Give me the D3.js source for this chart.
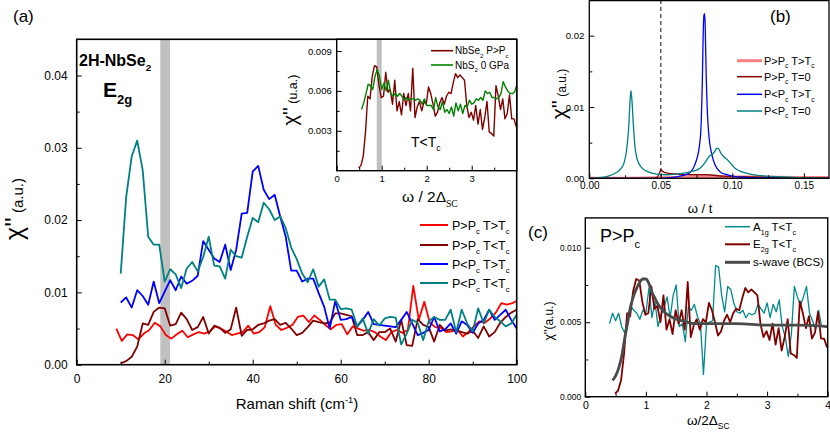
<!DOCTYPE html>
<html><head><meta charset="utf-8">
<script src="https://cdn.jsdelivr.net/npm/d3@7"></script>
<style>html,body{margin:0;padding:0;background:#fff;} svg{display:block;font-family:'Liberation Sans',Arial,sans-serif;}</style>
</head><body><svg id="chart" width="830" height="432"></svg>
<script>
// ---------------- DATA: panel (a) Raman spectra ----------------
const ramanX = [10,11.25,12.5,13.75,15,16.25,17.5,18.75,20,21.25,22.5,23.75,25,26.25,27.5,28.75,30,31.25,32.5,33.75,35,36.25,37.5,38.75,40,41.25,42.5,43.75,45,46.25,47.5,48.75,50,51.25,52.5,53.75,55,56.25,57.5,58.75,60,61.25,62.5,63.75,65,66.25,67.5,68.75,70,71.25,72.5,73.75,75,76.25,77.5,78.75,80,81.25,82.5,83.75,85,86.25,87.5,88.75,90,91.25,92.5,93.75,95,96.25,97.5,98.75,100];
const ramanXRed = [9,10.25,11.5,12.75,14,15.25,16.5,17.75,19,20.25,21.5,22.75,24,25.25,26.5,27.75,29,30.25,31.5,32.75,34,35.25,36.5,37.75,39,40.25,41.5,42.75,44,45.25,46.5,47.75,49,50.25,51.5,52.75,54,55.25,56.5,57.75,59,60.25,61.5,62.75,64,65.25,66.5,67.75,69,70.25,71.5,72.75,74,75.25,76.5,77.75,79,80.25,81.5,82.75,84,85.25,86.5,87.75,89,90.25,91.5,92.75,94,95.25,96.5,97.75,99,100.25];
const aHighPHighT = [0.0050,0.0033,0.0042,0.0041,0.0035,0.0043,0.0048,0.0058,0.0053,0.0041,
0.0036,0.0042,0.0047,0.0038,0.0042,0.0045,0.0043,0.0046,0.0053,0.0050,
0.0046,0.0041,0.0043,0.0045,0.0054,0.0043,0.0045,0.0052,0.0081,0.0055,
0.0048,0.0051,0.0055,0.0066,0.0068,0.0059,0.0068,0.0062,0.0055,0.0049,
0.0055,0.0056,0.0042,0.0053,0.0050,0.0047,0.0048,0.0045,0.0039,0.0034,
0.0045,0.0048,0.0044,0.0048,0.0109,0.0062,0.0087,0.0058,0.0052,0.0051,
0.0045,0.0046,0.0049,0.0039,0.0045,0.0053,0.0060,0.0058,0.0064,0.0072,
0.0085,0.0083,0.0085,0.0089];
const aHighPLowT = [0.0002,0.0005,0.0011,0.0025,0.0057,0.0055,0.0073,0.0079,0.0078,0.0054,
0.0056,0.0072,0.0063,0.0048,0.0052,0.0066,0.0043,0.0054,0.0051,0.0044,
0.0049,0.0079,0.0040,0.0048,0.0049,0.0055,0.0057,0.0061,0.0063,0.0055,
0.0058,0.0050,0.0041,0.0044,0.0052,0.0061,0.0059,0.0057,0.0058,0.0071,
0.0071,0.0069,0.0067,0.0041,0.0041,0.0045,0.0034,0.0045,0.0045,0.0050,
0.0032,0.0062,0.0027,0.0026,0.0063,0.0055,0.0052,0.0032,0.0055,0.0047,
0.0049,0.0047,0.0045,0.0043,0.0047,0.0037,0.0053,0.0039,0.0045,0.0058,
0.0066,0.0072,0.0076];
const aLowPHighT = [0.0086,0.0093,0.0079,0.0103,0.0095,0.0083,0.0115,0.0085,0.0101,0.0117,
0.0103,0.0122,0.0112,0.0116,0.0123,0.0171,0.0159,0.0147,0.0142,0.0166,
0.0131,0.0159,0.0209,0.0210,0.0267,0.0275,0.0242,0.0229,0.0235,0.0205,
0.0177,0.0130,0.0130,0.0115,0.0119,0.0119,0.0099,0.0080,0.0050,0.0088,
0.0062,0.0063,0.0066,0.0053,0.0062,0.0073,0.0056,0.0055,0.0054,0.0053,
0.0052,0.0062,0.0073,0.0057,0.0041,0.0044,0.0048,0.0066,0.0046,0.0049,
0.0057,0.0043,0.0060,0.0055,0.0044,0.0057,0.0062,0.0076,0.0062,0.0069,
0.0076,0.0062,0.0050];
const aLowPLowT = [0.0126,0.0232,0.0288,0.0310,0.0269,0.0177,0.0166,0.0166,0.0115,0.0132,
0.0125,0.0106,0.0133,0.0142,0.0129,0.0149,0.0177,0.0137,0.0136,0.0119,
0.0159,0.0150,0.0148,0.0177,0.0203,0.0197,0.0224,0.0215,0.0200,0.0205,
0.0189,0.0162,0.0146,0.0126,0.0114,0.0132,0.0108,0.0118,0.0090,0.0090,
0.0077,0.0078,0.0076,0.0053,0.0064,0.0043,0.0063,0.0054,0.0064,0.0066,
0.0065,0.0028,0.0043,0.0062,0.0058,0.0034,0.0060,0.0066,0.0062,0.0062,
0.0076,0.0045,0.0076,0.0057,0.0046,0.0078,0.0057,0.0076,0.0066,0.0060,
0.0053,0.0057,0.0069];
const aBand = [19.0, 21.2];

// ---------------- DATA: inset / panel (c) ----------------
const omegaE2g = [0.49,0.54,0.59,0.64,0.69,0.74,0.79,0.84,0.89,0.94,0.99,1.04,1.09,1.14,1.19,1.24,1.29,1.34,1.39,1.44,1.49,1.54,1.59,1.64,1.69,1.74,1.79,1.84,1.89,1.94,1.99,2.04,2.09,2.14,2.19,2.24,2.29,2.34,2.39,2.44,2.49,2.54,2.59,2.64,2.69,2.74,2.79,2.84,2.89,2.94,2.99,3.04,3.09,3.14,3.19,3.24,3.29,3.34,3.39,3.44,3.49,3.54,3.59,3.64,3.69,3.74,3.79,3.84,3.89,3.94,3.99];
const e2gVals = [0.0002,0.0004,0.0011,0.0029,0.0056,0.0054,0.0071,0.0079,0.0078,0.0064,
0.0055,0.0056,0.0074,0.0059,0.0061,0.0050,0.0068,0.0045,0.0052,0.0042,
0.0058,0.0049,0.0058,0.0045,0.0077,0.0040,0.0048,0.0052,0.0045,0.0052,
0.0050,0.0063,0.0058,0.0050,0.0041,0.0044,0.0051,0.0055,0.0050,0.0056,
0.0059,0.0058,0.0066,0.0073,0.0070,0.0072,0.0070,0.0068,0.0049,0.0040,
0.0044,0.0038,0.0049,0.0035,0.0046,0.0031,0.0040,0.0052,0.0029,0.0028,
0.0026,0.0064,0.0056,0.0046,0.0054,0.0039,0.0043,0.0057,0.0039,0.0039,
0.0033];
const omegaNbS2 = [0.55,0.6,0.65,0.7,0.75,0.8,0.85,0.9,0.95,1,1.05,1.1,1.15,1.2,1.25,1.3,1.35,1.4,1.45,1.5,1.55,1.6,1.65,1.7,1.75,1.8,1.85,1.9,1.95,2,2.05,2.1,2.15,2.2,2.25,2.3,2.35,2.4,2.45,2.5,2.55,2.6,2.65,2.7,2.75,2.8,2.85,2.9,2.95,3,3.05,3.1,3.15,3.2,3.25,3.3,3.35,3.4,3.45,3.5,3.55,3.6,3.65,3.7,3.75,3.8,3.85,3.9,3.95,4];
const nbs2Vals = [0.0046,0.0051,0.0058,0.0065,0.0064,0.0061,0.0071,0.0076,0.0071,0.0061,
0.0066,0.0060,0.0068,0.0058,0.0056,0.0058,0.0056,0.0058,0.0056,0.0053,
0.0055,0.0053,0.0054,0.0054,0.0053,0.0054,0.0053,0.0050,0.0054,0.0049,
0.0049,0.0049,0.0046,0.0055,0.0048,0.0046,0.0052,0.0044,0.0046,0.0043,
0.0048,0.0041,0.0051,0.0045,0.0050,0.0043,0.0049,0.0048,0.0053,0.0050,
0.0051,0.0054,0.0053,0.0055,0.0053,0.0060,0.0058,0.0059,0.0055,0.0055,
0.0054,0.0055,0.0058,0.0067,0.0063,0.0060,0.0058,0.0058,0.0059,0.0064];
const insetBand = [0.89, 1.0];
const omegaA1g = [0.4,0.45,0.5,0.55,0.6,0.65,0.7,0.75,0.8,0.85,0.9,0.95,1,1.05,1.1,1.15,1.2,1.25,1.3,1.35,1.4,1.45,1.5,1.55,1.6,1.65,1.7,1.75,1.8,1.85,1.9,1.95,2,2.05,2.1,2.15,2.2,2.25,2.3,2.35,2.4,2.45,2.5,2.55,2.6,2.65,2.7,2.75,2.8,2.85,2.9,2.95,3,3.05,3.1,3.15,3.2,3.25,3.3,3.35,3.4,3.45,3.5,3.55,3.6,3.65,3.7,3.75,3.8,3.85,3.9];
const a1gVals = [0.0049,0.0056,0.0051,0.0056,0.0047,0.0043,0.0053,0.0061,0.0058,0.0056,
0.0052,0.0058,0.0056,0.0073,0.0053,0.0064,0.0047,0.0055,0.0060,0.0067,
0.0053,0.0068,0.0075,0.0047,0.0049,0.0037,0.0060,0.0058,0.0062,0.0054,
0.0049,0.0015,0.0049,0.0050,0.0051,0.0088,0.0087,0.0068,0.0057,0.0074,
0.0072,0.0063,0.0057,0.0056,0.0058,0.0053,0.0056,0.0055,0.0056,0.0062,
0.0059,0.0056,0.0063,0.0053,0.0062,0.0057,0.0065,0.0047,0.0040,0.0027,
0.0042,0.0074,0.0067,0.0061,0.0067,0.0074,0.0056,0.0051,0.0045,0.0058,
0.0047];
const bcsX = [0.45,0.5,0.55,0.6,0.65,0.7,0.75,0.8,0.85,0.9,0.95,1.0,1.05,1.1,1.15,1.2,1.3,1.4,1.5,1.6,1.8,2.0,2.5,3.0,3.5,4.0];
const bcsY = [0.0011,0.0014,0.0019,0.0027,0.0039,0.0050,0.0061,0.0068,0.0073,0.0077,0.0079,0.0079,0.0076,0.0070,0.0066,0.0062,0.0057,0.0054,0.0052,0.0051,0.0049,0.0049,0.0049,0.0048,0.0048,0.0047];

// ---------------- DATA: panel (b) model ----------------
const bLowPZeroX = [0,0.0075,0.0133,0.018,0.0214,0.0242,0.0261,0.0275,0.0284,0.0291,0.0298,0.0308,0.0319,0.0336,0.0366,0.0413,0.0471,0.0541,0.0611,0.068,0.0727,0.0774,0.0809,0.0839,0.0862,0.0879,0.089,0.0902,0.0918,0.0937,0.096,0.0984,0.1019,0.1054,0.1124,0.124,0.1357,0.147,0.168];
const bLowPZeroY = [0,0.0001,0.0003,0.0007,0.0012,0.0021,0.0040,0.0070,0.0105,0.0123,0.0110,0.0075,0.0045,0.0026,0.0015,0.0009,0.0006,0.0005,0.0006,0.0008,0.0010,0.0014,0.0022,0.0031,0.0034,0.0038,0.0042,0.0042,0.0036,0.0031,0.0027,0.0022,0.0014,0.0010,0.0006,0.0003,0.0002,0.0001,0.0000];
const bLowPHighX = [0,0.05,0.061,0.0657,0.0704,0.0727,0.075,0.0769,0.0781,0.079,0.0797,0.0802,0.0807,0.0811,0.0816,0.0825,0.0837,0.0855,0.0879,0.0914,0.096,0.103,0.112,0.136,0.168];
const bLowPHighY = [0,0,0.0002,0.0004,0.0008,0.0014,0.0026,0.0044,0.0072,0.0133,0.0208,0.0229,0.0231,0.0208,0.0157,0.0096,0.0058,0.0035,0.0019,0.0009,0.0005,0.0002,0.0001,0,0];
const bHighPZeroX = [0,0.045,0.0471,0.049,0.0501,0.0517,0.0552,0.061,0.0704,0.082,0.0937,0.112,0.136,0.168];
const bHighPZeroY = [0,0,0.0001,0.0007,0.0012,0.0009,0.0007,0.0006,0.0005,0.0005,0.0003,0.0002,0.0001,0.00005];
const bHighPHighX = [0,0.03,0.05,0.07,0.09,0.11,0.13,0.15,0.168];
const bHighPHighY = [0,0.00002,0.00008,0.00015,0.0002,0.00018,0.00015,0.00012,0.0001];
const bDashedAt = 0.05;

// ---------------- ticks ----------------
const aXMajor=[0,20,40,60,80,100], aXMinor=[10,30,50,70,90];
const aYMajor=[0,0.01,0.02,0.03,0.04], aYMinor=[0.005,0.015,0.025,0.035];
const iXMajor=[0,1,2,3], iXMinor=[0.5,1.5,2.5,3.5];
const iYMajor=[0.003,0.006,0.009], iYMinor=[0.0015,0.0045,0.0075];
const bXMajor=[0,0.05,0.10,0.15], bXMinor=[0.025,0.075,0.125];
const bYMajor=[0,0.01,0.02], bYMinor=[0.005,0.015];
const cXMajor=[0,1,2,3,4], cXMinor=[0.5,1.5,2.5,3.5];
const cYMajor=[0,0.005,0.010], cYMinor=[0.0025,0.0075];

// ---------------- helpers ----------------
const svg = d3.select('#chart');
const defs = svg.append('defs');
const FONT = "'Liberation Sans',Arial,sans-serif";

function clip(id, x0, y0, x1, y1){
  defs.append('clipPath').attr('id',id).append('rect').attr('x',x0).attr('y',y0).attr('width',x1-x0).attr('height',y1-y0);
}
function drawLine(g, xs, ys, sx, sy, color, w, curve){
  g.append('path').attr('d', d3.line().x(d=>sx(d[0])).y(d=>sy(d[1])).curve(curve||d3.curveLinear)(d3.zip(xs,ys)))
   .attr('fill','none').attr('stroke',color).attr('stroke-width',w).attr('stroke-linejoin','round');
}
function axes(g, sx, sy, o){
  const [x0] = sx.range(), [y0] = sy.range();
  const parts = [];
  parts.push(g.append('g').attr('transform',`translate(0,${y0})`).call(d3.axisBottom(sx).tickValues(o.xMajor).tickSize(-5).tickPadding(o.xPad).tickFormat(o.xFmt)));
  parts.push(g.append('g').attr('transform',`translate(0,${y0})`).call(d3.axisBottom(sx).tickValues(o.xMinor).tickSize(-3).tickFormat('')));
  parts.push(g.append('g').attr('transform',`translate(${x0},0)`).call(d3.axisLeft(sy).tickValues(o.yMajor).tickSize(-5).tickPadding(o.yPad).tickFormat(o.yFmt)));
  parts.push(g.append('g').attr('transform',`translate(${x0},0)`).call(d3.axisLeft(sy).tickValues(o.yMinor).tickSize(-3).tickFormat('')));
  parts.forEach((a,i)=>{
    a.select('.domain').remove();
    a.attr('font-family',FONT).attr('font-size', i<2 ? o.xFs : o.yFs);
    a.selectAll('line').attr('stroke','#000').attr('stroke-width',1);
    a.selectAll('text').attr('fill','#000');
  });
}
function frame(g, x0, y0, x1, y1, w){
  g.append('rect').attr('x',x0).attr('y',y0).attr('width',x1-x0).attr('height',y1-y0)
   .attr('fill','none').attr('stroke','#000').attr('stroke-width',w||1.5);
}
function rich(g, x, y, parts, size, attrs){
  const t = g.append('text').attr('x',x).attr('y',y).attr('font-size',size).attr('fill','#000');
  if (attrs) Object.entries(attrs).forEach(([k,v])=>t.attr(k,v));
  let off = 0;
  parts.forEach(p=>{
    const [txt, kind, fam] = Array.isArray(p) ? p : [p,'n'];
    const target = kind==='sub' ? size*0.32 : kind==='sup' ? -size*0.42 : 0;
    const ts = t.append('tspan').text(txt).attr('dy', target-off);
    if (kind!=='n') ts.attr('font-size', size*0.62);
    if (fam) ts.attr('font-family', fam);
    off = target;
  });
  return t;
}
function legendRow(g, x0, x1, y, color, w, parts, size, tx){
  g.append('line').attr('x1',x0).attr('x2',x1).attr('y1',y).attr('y2',y).attr('stroke',color).attr('stroke-width',w);
  rich(g, tx, y+size*0.36, parts, size);
}

// ================= PANEL (a) =================
const gA = svg.append('g');
const xA = d3.scaleLinear().domain([0,100]).range([76.7,516.7]);
const yA = d3.scaleLinear().domain([0,0.045]).range([364.7,39.3]);
clip('clipA', 76.7, 39.3, 516.7, 364.7);
gA.append('rect').attr('x',xA(aBand[0])).attr('width',xA(aBand[1])-xA(aBand[0])).attr('y',39.3).attr('height',364.7-39.3).attr('fill','#c0c0c0');
const gAl = gA.append('g').attr('clip-path','url(#clipA)');
drawLine(gAl, ramanXRed, aHighPHighT, xA, yA, '#ff0000', 1.8);
drawLine(gAl, ramanX, aHighPLowT, xA, yA, '#800000', 1.8);
drawLine(gAl, ramanX, aLowPHighT, xA, yA, '#0000ff', 1.8);
drawLine(gAl, ramanX, aLowPLowT, xA, yA, '#008080', 1.8);
axes(gA, xA, yA, {xMajor:aXMajor,xMinor:aXMinor,yMajor:aYMajor,yMinor:aYMinor,xPad:10,yPad:9,xFmt:d3.format('d'),yFmt:d3.format('.2f'),xFs:12,yFs:12});
frame(gA, 76.7, 39.3, 516.7, 364.7, 1.6);
rich(gA, 13, 22, ['(a)'], 17);
rich(gA, 79, 66, ['2H-NbSe',['2','sub']], 16, {'font-weight':'bold'});
rich(gA, 103, 97, ['E',['2g','sub']], 21, {'font-weight':'bold'});
rich(gA, 297, 409, ['Raman shift (cm',['-1','sup'],')'], 15, {'text-anchor':'middle'});
{
  const t = gA.append('text').attr('transform','translate(23,209) rotate(-90)').attr('text-anchor','middle').attr('fill','#000');
  t.append('tspan').text('\u03C7\'\'').attr('font-size',25);
  t.append('tspan').text(' (a.u.)').attr('font-size',15);
}
const legA = gA.append('g');
legendRow(legA, 420, 448, 225, '#ff0000', 2, ['P>P',['c','sub'],'  T>T',['c','sub']], 12.5, 452);
legendRow(legA, 420, 448, 245, '#800000', 2, ['P>P',['c','sub'],'  T<T',['c','sub']], 12.5, 452);
legendRow(legA, 420, 448, 264, '#0000ff', 2, ['P<P',['c','sub'],'  T>T',['c','sub']], 12.5, 452);
legendRow(legA, 420, 448, 283, '#008080', 2, ['P<P',['c','sub'],'  T<T',['c','sub']], 12.5, 452);

// ---------------- inset ----------------
const gI = svg.append('g');
const xI = d3.scaleLinear().domain([0,4]).range([336.7,516.7]);
const yI = d3.scaleLinear().domain([0,0.00988]).range([170.7,39.3]);
clip('clipI', 336.7, 39.3, 516.7, 170.7);
gI.append('rect').attr('x',336.7).attr('y',39.3).attr('width',180).attr('height',131.4).attr('fill','#fff');
gI.append('rect').attr('x',xI(insetBand[0])).attr('width',xI(insetBand[1])-xI(insetBand[0])).attr('y',39.3).attr('height',131.4).attr('fill','#c0c0c0');
const gIl = gI.append('g').attr('clip-path','url(#clipI)');
drawLine(gIl, omegaE2g, e2gVals, xI, yI, '#800000', 1.4);
drawLine(gIl, omegaNbS2, nbs2Vals, xI, yI, '#008000', 1.4);
axes(gI, xI, yI, {xMajor:iXMajor,xMinor:iXMinor,yMajor:iYMajor,yMinor:iYMinor,xPad:5,yPad:5,xFmt:d3.format('d'),yFmt:d3.format('.3f'),xFs:9.5,yFs:9.5});
frame(gI, 336.7, 39.3, 516.7, 170.7, 1.4);
legendRow(gI, 431, 453, 50.7, '#800000', 1.6, ['NbSe',['2','sub'],' P>P',['c','sub']], 10, 455);
legendRow(gI, 431, 453, 65, '#008000', 1.6, ['NbS',['2','sub'],' 0 GPa'], 10, 455);
rich(gI, 411, 147, ['T<T',['c','sub']], 14);
rich(gI, 402, 202, ['\u03C9 / 2\u0394',['SC','sub',"'Liberation Serif',serif"]], 15.5);
{
  const t = gI.append('text').attr('transform','translate(297,100) rotate(-90)').attr('text-anchor','middle').attr('fill','#000');
  t.append('tspan').text('\u03C7\'\'').attr('font-size',20);
  t.append('tspan').text(' (u.a.)').attr('font-size',12.5);
}

// ================= PANEL (b) =================
const gB = svg.append('g');
const xB = d3.scaleLinear().domain([0,0.1676]).range([589.3,829]);
const yB = d3.scaleLinear().domain([0,0.025]).range([178.3,0.05]);
clip('clipB', 589.3, 0, 829, 178.3);
const gBl = gB.append('g').attr('clip-path','url(#clipB)');
gBl.append('line').attr('x1',xB(bDashedAt)).attr('x2',xB(bDashedAt)).attr('y1',0).attr('y2',178.3)
   .attr('stroke','#333').attr('stroke-width',1.2).attr('stroke-dasharray','4,3');
drawLine(gBl, bHighPHighX, bHighPHighY, xB, yB, '#ff8080', 3, d3.curveMonotoneX);
drawLine(gBl, bHighPZeroX, bHighPZeroY, xB, yB, '#8b0000', 1.3, d3.curveMonotoneX);
drawLine(gBl, bLowPHighX, bLowPHighY, xB, yB, '#0000ff', 1.3, d3.curveMonotoneX);
drawLine(gBl, bLowPZeroX, bLowPZeroY, xB, yB, '#008080', 1.3, d3.curveMonotoneX);
axes(gB, xB, yB, {xMajor:bXMajor,xMinor:bXMinor,yMajor:bYMajor,yMinor:bYMinor,xPad:3.5,yPad:5,xFmt:d3.format('.2f'),yFmt:d3.format('.2f'),xFs:10,yFs:9.5});
frame(gB, 589.3, 0.6, 829, 178.3, 1.3);
rich(gB, 770, 22, ['(b)'], 17);
rich(gB, 700, 213, ['\u03C9 / t'], 13, {'text-anchor':'middle'});
{
  const t = gB.append('text').attr('transform','translate(566,94) rotate(-90)').attr('text-anchor','middle').attr('fill','#000');
  t.append('tspan').text('\u03C7\'\'').attr('font-size',21);
  t.append('tspan').text(' (a.u.)').attr('font-size',12);
}
const legB = gB.append('g');
legendRow(legB, 737, 762, 60.7, '#ff8080', 3, ['P>P',['c','sub'],' T>T',['c','sub']], 11, 764);
legendRow(legB, 737, 762, 76.7, '#8b0000', 1.5, ['P>P',['c','sub'],' T=0'], 11, 764);
legendRow(legB, 737, 762, 94.3, '#0000ff', 1.5, ['P<P',['c','sub'],' T>T',['c','sub']], 11, 764);
legendRow(legB, 737, 762, 111, '#008080', 1.5, ['P<P',['c','sub'],' T=0'], 11, 764);

// ================= PANEL (c) =================
const gC = svg.append('g');
const xC = d3.scaleLinear().domain([0,4]).range([585.3,827.7]);
const yC = d3.scaleLinear().domain([0,0.012]).range([396.7,217.9]);
clip('clipC', 585.3, 217.9, 827.7, 396.7);
const gCl = gC.append('g').attr('clip-path','url(#clipC)');
drawLine(gCl, omegaA1g, a1gVals, xC, yC, '#008b8b', 1.3);
drawLine(gCl, omegaE2g, e2gVals, xC, yC, '#800000', 1.8);
drawLine(gCl, bcsX, bcsY, xC, yC, '#4a4a4a', 2.8, d3.curveMonotoneX);
axes(gC, xC, yC, {xMajor:cXMajor,xMinor:cXMinor,yMajor:cYMajor,yMinor:cYMinor,xPad:5,yPad:4,xFmt:d3.format('d'),yFmt:d3.format('.3f'),xFs:10.5,yFs:8.5});
frame(gC, 585.3, 217.9, 827.7, 396.7, 1.4);
rich(gC, 528, 238, ['(c)'], 17);
rich(gC, 600, 242, ['P>P',['c','sub']], 18);
rich(gC, 687, 425, ['\u03C9/2\u0394',['SC','sub']], 13.5);
{
  const t = gC.append('text').attr('transform','translate(553,321) rotate(-90)').attr('text-anchor','middle').attr('fill','#000');
  t.append('tspan').text('\u03C7\'\'(a.u.)').attr('font-size',12);
}
const legC = gC.append('g');
legendRow(legC, 725, 750, 226.7, '#008b8b', 1.5, ['A',['1g','sub'],' T<T',['c','sub']], 11.5, 753);
legendRow(legC, 725, 750, 244.3, '#800000', 2, ['E',['2g','sub'],' T<T',['c','sub']], 11.5, 753);
legendRow(legC, 725, 750, 262.3, '#4a4a4a', 3, ['s-wave (BCS)'], 11.5, 753);
</script></body></html>
